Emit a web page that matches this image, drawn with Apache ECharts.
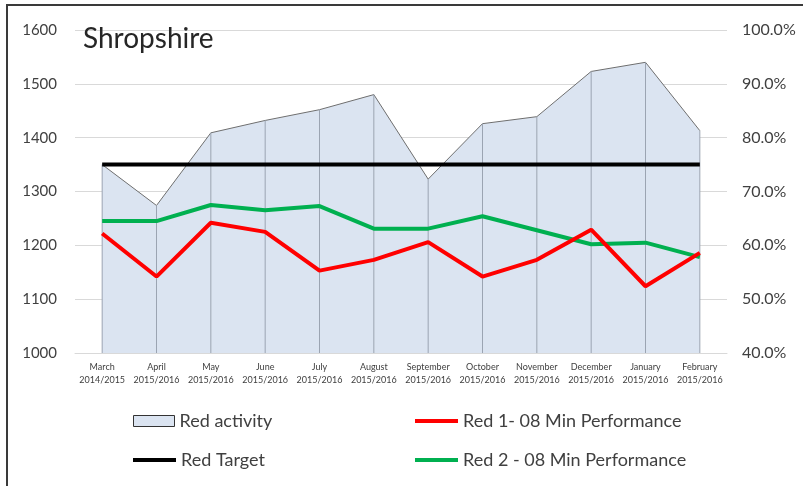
<!DOCTYPE html>
<html>
<head>
<meta charset="utf-8">
<script src="https://cdn.jsdelivr.net/npm/echarts@6/dist/echarts.min.js"></script>
<style>
  html, body { margin: 0; padding: 0; background: #fff; }
  #chart { width: 803px; height: 486px; position: relative; }
  #frame { position: absolute; left: 6px; top: 4px; right: 0; bottom: -10px;
           border-top: 2px solid #3a3a3a; border-left: 2px solid #3a3a3a; pointer-events: none; }
</style>
</head>
<body>
<div id="chart"></div>
<div id="frame"></div>
<script>
// 月份 / 年度
let months = ['March', 'April', 'May', 'June', 'July', 'August', 'September',
  'October', 'November', 'December', 'January', 'February'];
let years = ['2014/2015', '2015/2016', '2015/2016', '2015/2016', '2015/2016', '2015/2016',
  '2015/2016', '2015/2016', '2015/2016', '2015/2016', '2015/2016', '2015/2016'];

// 数据
let redActivity = [1350, 1274, 1409, 1432, 1452, 1480, 1323, 1426, 1439, 1523, 1540, 1413];
let redTarget = [1350, 1350, 1350, 1350, 1350, 1350, 1350, 1350, 1350, 1350, 1350, 1350];
let red1Perf = [62.2, 54.2, 64.2, 62.5, 55.3, 57.3, 60.6, 54.2, 57.3, 62.9, 52.4, 58.6];
let red2Perf = [64.5, 64.5, 67.5, 66.5, 67.3, 63.1, 63.1, 65.4, 62.8, 60.2, 60.5, 57.8];

let font = 'Lato';
let textColor = '#404040';

let legendText = { fontFamily: font, fontSize: 18, color: textColor };

let chartConfig = {
  animation: false,
  textStyle: { fontFamily: font },
  title: {
    text: 'Shropshire',
    left: 78,
    top: 20,
    textStyle: { fontFamily: font, fontSize: 28, fontWeight: 'normal', color: '#262626' }
  },
  legend: [
    {
      data: [{ name: 'Red activity', icon: 'rect', itemStyle: { color: '#dbe4f1', borderColor: '#333', borderWidth: 1 } }],
      left: 133, top: 412, padding: 0, itemWidth: 41, itemHeight: 11, textStyle: legendText
    },
    {
      data: [{ name: 'Red 1- 08 Min Performance', icon: 'rect' }],
      left: 415, top: 412, padding: 0, itemWidth: 43, itemHeight: 4, textStyle: legendText
    },
    {
      data: [{ name: 'Red Target', icon: 'rect' }],
      left: 133, top: 451, padding: 0, itemWidth: 43, itemHeight: 4, textStyle: legendText
    },
    {
      data: [{ name: 'Red 2 - 08 Min Performance', icon: 'rect' }],
      left: 415, top: 451, padding: 0, itemWidth: 43, itemHeight: 4, textStyle: legendText
    }
  ],
  grid: { left: 75, right: 76, top: 30, bottom: 133, containLabel: false },
  xAxis: {
    type: 'category',
    boundaryGap: true,
    data: months.map((m, i) => m + '\n' + years[i]),
    axisLine: { lineStyle: { color: '#d9d9d9', width: 1 } },
    axisTick: { show: false },
    axisLabel: { interval: 0, fontFamily: font, fontSize: 9, lineHeight: 13, color: textColor, margin: 8 }
  },
  yAxis: [
    {
      type: 'value',
      min: 1000, max: 1600, interval: 100,
      axisLine: { show: false },
      axisTick: { show: false },
      splitLine: { lineStyle: { color: '#d9d9d9', width: 1 } },
      axisLabel: { fontFamily: font, fontSize: 15, color: textColor, margin: 18,
        formatter: v => String(v) }
    },
    {
      type: 'value',
      min: 40, max: 100, interval: 10,
      position: 'right',
      axisLine: { show: false },
      axisTick: { show: false },
      splitLine: { show: false },
      axisLabel: { fontFamily: font, fontSize: 16, color: textColor, margin: 15,
        formatter: v => v.toFixed(1) + '%' }
    }
  ],
  series: [
    {
      name: 'Red activity',
      type: 'line',
      data: redActivity,
      symbol: 'none',
      color: '#dbe4f1',
      lineStyle: { color: '#6e6e6e', width: 1 },
      areaStyle: { color: '#dbe4f1', opacity: 1 },
      z: 1
    },
    {
      // 面积图中的竖线
      name: 'activity drop',
      type: 'bar',
      data: redActivity,
      barWidth: 1,
      itemStyle: { color: '#9ba4b2' },
      z: 2
    },
    {
      name: 'Red Target',
      type: 'line',
      data: redTarget,
      symbol: 'none',
      color: '#000000',
      lineStyle: { color: '#000000', width: 4 },
      z: 3
    },
    {
      name: 'Red 2 - 08 Min Performance',
      type: 'line',
      yAxisIndex: 1,
      data: red2Perf,
      symbol: 'none',
      color: '#00b050',
      lineStyle: { color: '#00b050', width: 4 },
      z: 4
    },
    {
      name: 'Red 1- 08 Min Performance',
      type: 'line',
      yAxisIndex: 1,
      data: red1Perf,
      symbol: 'none',
      color: '#ff0000',
      lineStyle: { color: '#ff0000', width: 4 },
      z: 5
    }
  ]
};

let chart = echarts.init(document.getElementById('chart'));
chart.setOption(chartConfig);
window.addEventListener('resize', function () {
  chart.resize();
});
</script>
</body>
</html>
